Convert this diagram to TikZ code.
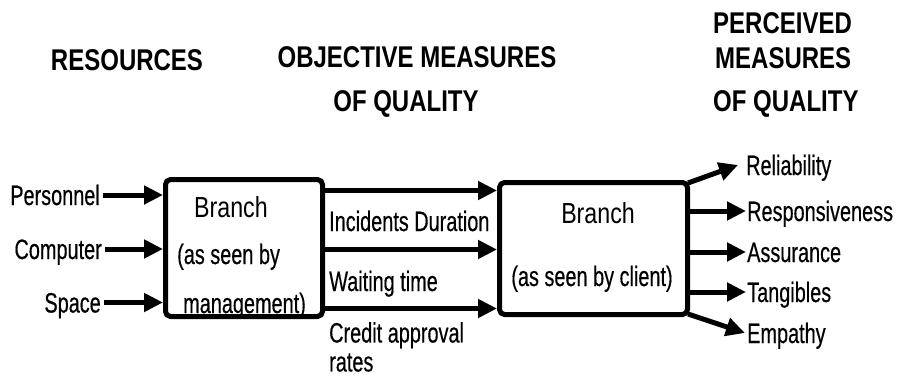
\documentclass[tikz,border=0pt]{standalone}
\usepackage{fontspec}
\setmainfont{Liberation Sans}[FakeStretch=0.71, FakeBold=0.4]
\newfontfamily\headfont{Liberation Sans}[FakeStretch=0.8]
\usetikzlibrary{arrows.meta}
\tikzset{
	lbl/.style={inner sep=0pt, text height=20pt, text depth=0pt, font=\fontsize{28}{31}\selectfont},
	hdr/.style={inner sep=0pt, text height=21pt, text depth=0pt, font=\headfont\bfseries\fontsize{30}{33}\selectfont},
	brname/.style={lbl, font=\headfont\fontsize{29}{32}\selectfont},
	branchbox/.style={draw, line width=5pt, rounded corners=5pt, inner sep=0pt},
	arr/.style={line width=5pt, -{Triangle[length=19pt,width=18pt]}}
}
\begin{document}
\begin{tikzpicture}[x=1pt, y=-1pt, line join=round]
	\useasboundingbox (0,0) rectangle (899,377);
	% Ueberschriften
	\node[hdr] (hres) at (127,60) {RESOURCES};
	\node[hdr] (hobj) at (417,57.5) {OBJECTIVE MEASURES};
	\node[hdr] (hobjq) at (406,101) {OF QUALITY};
	\node[hdr, anchor=west] (hper) at (713,23) {PERCEIVED};
	\node[hdr, anchor=west] (hperm) at (715,58) {MEASURES};
	\node[hdr, anchor=west] (hperq) at (713,101) {OF QUALITY};
	% Kaesten
	\node[branchbox, minimum width=157pt, minimum height=137pt] (mgmt) at (244,248) {};
	\node[branchbox, minimum width=188pt, minimum height=132pt] (client) at (593.5,248.5) {};
	\node[brname] (mgmtname) at (231,207) {Branch};
	\node[lbl, anchor=west] (mgmtseen) at (177,254) {(as seen by};
	\node[lbl, anchor=west] (mgmtwho) at (183,303) {management)};
	\node[brname] (clientname) at (598,213) {Branch};
	\node[lbl] (clientseen) at (592,276) {(as seen by client)};
	% Ressourcen
	\node[lbl, anchor=east] (pers) at (100,195) {Personnel};
	\node[lbl, anchor=east] (comp) at (102,249) {Computer};
	\node[lbl, anchor=east] (space) at (101,302.5) {Space};
	\foreach \n in {pers,comp,space}
		\draw[arr] ([xshift=3pt]\n.east) -- (\n.east -| mgmt.west);
	% objektive Masse
	\coordinate (o1) at (322,190.5);
	\coordinate (o2) at (322,249.5);
	\coordinate (o3) at (322,308.5);
	\foreach \n in {o1,o2,o3}
		\draw[arr] (\n) -- (\n -| client.west);
	\node[lbl, anchor=west] (inc) at (329,221) {Incidents Duration};
	\node[lbl, anchor=west] (wait) at (329,281) {Waiting time};
	\node[lbl, anchor=north west, align=left, text height=, font=\fontsize{28}{29}\selectfont] (credit) at (329,322) {Credit approval\\rates};
	% wahrgenommene Masse
	\node[lbl, anchor=west] (rel) at (746,165) {Reliability};
	\node[lbl, anchor=west] (resp) at (747,211) {Responsiveness};
	\node[lbl, anchor=west] (assur) at (747,252) {Assurance};
	\node[lbl, anchor=west] (tang) at (747,292) {Tangibles};
	\node[lbl, anchor=west] (emp) at (747,333) {Empathy};
	\draw[arr] ([xshift=-2pt,yshift=-3pt]client.north east) -- ([xshift=-8pt]rel.west);
	\foreach \n in {resp,assur,tang}
		\draw[arr] (client.east |- \n.west) -- ([xshift=-1pt]\n.west);
	\draw[arr] ([xshift=-2pt,yshift=3pt]client.south east) -- ([xshift=-2pt]emp.west);
\end{tikzpicture}
\end{document}
